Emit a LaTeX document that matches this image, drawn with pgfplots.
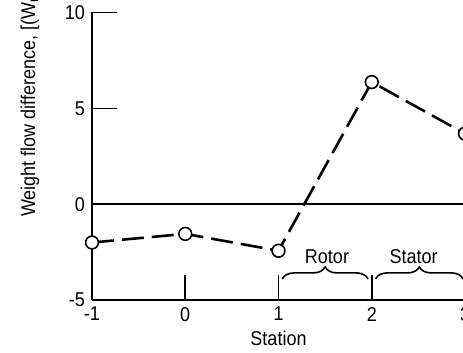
\documentclass[border=0pt]{standalone}
\usepackage{fontspec}
\setmainfont{Liberation Sans}[FakeStretch=0.9]
\usepackage{pgfplots}
\pgfplotsset{compat=1.18}
\usetikzlibrary{decorations.pathreplacing}
\begin{document}
\begin{tikzpicture}
\begin{axis}[
  scale only axis,
  width=186.5pt, height=143.75pt,
  xmin=-1, xmax=3, ymin=-5, ymax=10,
  axis x line=bottom, axis y line=left,
  axis line style={-, line width=0.8pt},
  xtick={-1,0,1,2,3}, ytick={-5,0,5,10},
  tick align=inside,
  major tick length=12.5pt,
  tick style={black, line width=0.8pt},
  /pgf/number format/assume math mode=true,
  ticklabel style={font=\fontsize{10}{11}\selectfont},
  xlabel={Station},
  xlabel style={font=\fontsize{10}{11}\selectfont, yshift=2pt},
  clip=false,
]
\coordinate (sw) at (rel axis cs:0,0);
\coordinate (ne) at (rel axis cs:1,1);
\draw[line width=0.8pt] (axis cs:-1,0) -- (axis cs:3,0);
\addplot[black, line width=1.3pt, dash pattern=on 11pt off 4pt,
  mark=*, mark size=3.2pt,
  mark options={solid, fill=white, draw=black, line width=0.8pt}]
  coordinates {(-1,-2.0) (0,-1.55) (1,-2.43) (2,6.37) (3,3.68)};
\draw[line width=0.8pt, decorate, decoration={brace, amplitude=6pt}]
  (axis cs:1.04,-3.9) -- (axis cs:1.96,-3.9);
\draw[line width=0.8pt, decorate, decoration={brace, amplitude=6pt}]
  (axis cs:2.04,-3.9) -- (axis cs:2.98,-3.9);
\node[font=\fontsize{10}{11}\selectfont] at (axis cs:1.52,-2.76) {Rotor};
\node[font=\fontsize{10}{11}\selectfont] at (axis cs:2.45,-2.76) {Stator};
\node[rotate=90, anchor=west, font=\fontsize{10}{11}\selectfont, inner sep=0pt]
  at ([xshift=-31pt]rel axis cs:0,0.288)
  {Weight flow difference, [(W$_\mathrm{m}$ -- W$_\mathrm{c}$)/W$_\mathrm{c}$] $\times$ 100, percent};
\end{axis}
\pgfresetboundingbox
\useasboundingbox ([xshift=-46pt,yshift=-26pt]sw) rectangle ([xshift=-1pt,yshift=6.25pt]ne);
\end{tikzpicture}
\end{document}
